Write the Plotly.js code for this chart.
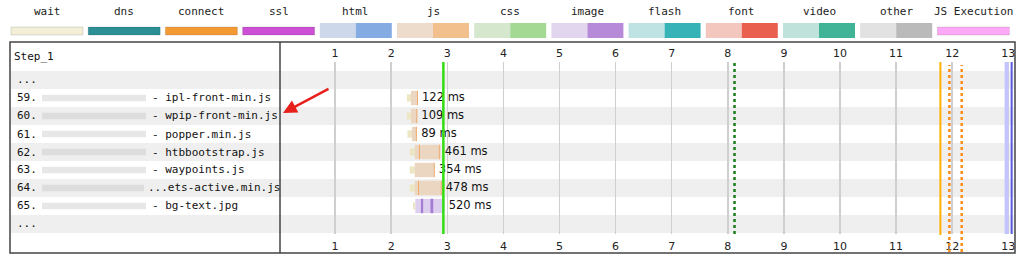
<!DOCTYPE html>
<html><head><meta charset="utf-8">
<script src="https://cdn.plot.ly/plotly-3.0.1.min.js"></script>
<style>html,body{margin:0;padding:0;background:#fff;} #chart{width:1024px;height:265px;}</style>
</head><body><div id="chart"></div>
<script>
// ---------- data ----------
const legendNames = ['wait','dns','connect','ssl','html','js','css','image','flash','font','video','other','JS Execution'];
const legendLight = ['#f2efd6','#2b8f95','#f49a35','#cc4fd4','#cdd8ea','#eddccb','#d5e8cd','#e2d6ef','#bfe2e3','#f3c6be','#bfe3da','#e2e2e2','#fda9f7'];
const legendDark  = [null,null,null,null,'#85abe3','#f2c08c','#a3d993','#b68ad9','#36b3b6','#e9604f','#41b497','#bababa',null];

const stepName = 'Step_1';
const rowLabels  = ['...','59.','60.','61.','62.','63.','64.','65.','...'];
const fileLabels = ['','- ipl-front-min.js','- wpip-front-min.js','- popper.min.js','- htbbootstrap.js','- waypoints.js','...ets-active.min.js','- bg-text.jpg',''];
const blurredRows = [1,2,3,4,5,6,7];

const requestRows  = [1,2,3,4,5,6,7];
const requestTypes = ['js','js','js','js','js','js','image'];
const waitStart    = [2.28,2.28,2.29,2.33,2.33,2.33,2.39];
const requestStart = [2.353,2.353,2.37,2.42,2.42,2.42,2.43];
const durationMs   = [122,109,89,461,354,478,520];

const chunkRows  = [1,2,3,4,4,5,6,6,7,7];
const chunkTypes = ['js','js','js','js','js','js','js','js','image','image'];
const chunkStart = [2.46,2.45,2.44,2.495,2.85,2.76,2.48,2.885,2.53,2.70];
const chunkMs    = [15,15,15,15,15,15,15,15,40,50];

const tickSeconds = [1,2,3,4,5,6,7,8,9,10,11,12,13];

const eventNames = ['startRender','lcp','domInteractive','domContentStart','domContentEnd','onLoad','docComplete'];
const eventTimes = [2.93,8.12,11.79,11.95,12.17,12.97,13.06];

const shadedRows = [0,2,4,6,8];

// ---------- styles ----------
const typeLight = {js:'#ebd6c2', image:'#ddd0ef'};
const typeDark  = {js:'#efa35e', image:'#a57dd2'};
const waitColor = '#ece6c3';
const eventStyle = [
  {color:'#33dd11', width:2.5, dash:'solid', top:62, bottom:234},
  {color:'#1b7d1b', width:2.5, dash:'dot',   top:62, bottom:234},
  {color:'#ffb000', width:2,   dash:'solid', top:62, bottom:235},
  {color:'#ff8c1a', width:2.5, dash:'dot',   top:65, bottom:252},
  {color:'#ff8c1a', width:2.5, dash:'dot',   top:65, bottom:252},
  {color:'#c4c4ff', width:4,   dash:'solid', top:62, bottom:234},
  {color:'#5a5ae0', width:2,   dash:'solid', top:62, bottom:234}
];

const W = 1024, H = 265;
const px = v => v / W;
const py = v => 1 - v / H;
const mono = 'DejaVu Sans Mono, monospace';
const sans = 'DejaVu Sans, Verdana, sans-serif';

// ---------- traces ----------
const traces = [];
traces.push({
  type:'bar', orientation:'h', y:requestRows,
  base:waitStart, x:waitStart.map((w,i)=>requestStart[i]-w),
  width:0.4, marker:{color:waitColor, line:{width:0}}, hoverinfo:'skip', showlegend:false
});
traces.push({
  type:'bar', orientation:'h', y:requestRows,
  base:requestStart, x:durationMs.map(d=>d/1000),
  width:0.8, marker:{color:requestTypes.map(t=>typeLight[t]), line:{width:0}}, hoverinfo:'skip', showlegend:false
});
traces.push({
  type:'bar', orientation:'h', y:chunkRows,
  base:chunkStart, x:chunkMs.map(d=>d/1000),
  width:0.8, marker:{color:chunkTypes.map(t=>typeDark[t]), line:{width:0}}, hoverinfo:'skip', showlegend:false
});
traces.push({
  type:'scatter', mode:'text', y:requestRows,
  x:durationMs.map((d,i)=>requestStart[i]+d/1000+0.075),
  text:durationMs.map(d=>d+' ms'), textposition:'middle right',
  textfont:{family:sans, size:11.5, color:'#111'}, cliponaxis:false, hoverinfo:'skip', showlegend:false
});
// helper traces so the label axes are drawn
traces.push({type:'scatter', mode:'markers', x:[1], y:[-5], xaxis:'x2', yaxis:'y', marker:{opacity:0}, hoverinfo:'skip', showlegend:false});
traces.push({type:'scatter', mode:'markers', x:[1], y:[-5], xaxis:'x3', yaxis:'y', marker:{opacity:0}, hoverinfo:'skip', showlegend:false});

// ---------- shapes ----------
const shapes = [];
shadedRows.forEach(r => shapes.push({
  type:'rect', xref:'paper', yref:'y', x0:px(11), x1:px(1014), y0:r-0.5, y1:r+0.5,
  fillcolor:'#efefef', line:{width:0}, layer:'below'
}));
blurredRows.forEach(r => shapes.push({
  type:'rect', xref:'paper', yref:'y', x0:px(42), x1:px(r===6?144:146), y0:r-0.18, y1:r+0.18,
  fillcolor:'rgba(195,195,195,0.4)', line:{width:0}, layer:'above'
}));
eventTimes.forEach((t,i) => shapes.push({
  type:'line', xref:'x', yref:'paper', x0:t, x1:t, y0:py(eventStyle[i].bottom), y1:py(eventStyle[i].top),
  line:{color:eventStyle[i].color, width:eventStyle[i].width, dash:eventStyle[i].dash}, layer:'above'
}));
// frame
shapes.push({type:'rect', xref:'paper', yref:'paper', x0:px(10), x1:px(1015), y0:py(253), y1:py(42),
  line:{color:'#444', width:1.5}, fillcolor:'rgba(0,0,0,0)', layer:'above'});
shapes.push({type:'line', xref:'paper', yref:'paper', x0:px(280), x1:px(280), y0:py(253), y1:py(42),
  line:{color:'#444', width:1.5}, layer:'above'});
// legend swatches
const pitch = 77.2, swW = 72;
legendNames.forEach((n,i) => {
  const x0 = 11 + i*pitch;
  if (legendDark[i]) {
    shapes.push({type:'rect', xref:'paper', yref:'paper', x0:px(x0), x1:px(x0+swW/2), y0:py(38), y1:py(23),
      fillcolor:legendLight[i], line:{width:0}});
    shapes.push({type:'rect', xref:'paper', yref:'paper', x0:px(x0+swW/2), x1:px(x0+swW), y0:py(38), y1:py(23),
      fillcolor:legendDark[i], line:{width:0}});
  } else {
    shapes.push({type:'rect', xref:'paper', yref:'paper', x0:px(x0), x1:px(x0+swW), y0:py(35), y1:py(27),
      fillcolor:legendLight[i], line:{width:0.8, color:'rgba(0,0,0,0.15)'}});
  }
});

// ---------- annotations ----------
const annotations = [];
legendNames.forEach((n,i) => annotations.push({
  xref:'paper', yref:'paper', x:px(11 + i*pitch + swW/2), y:py(12), text:n, showarrow:false,
  xanchor:'center', yanchor:'middle', font:{family:mono, size:11, color:'#222'}
}));
annotations.push({xref:'paper', yref:'paper', x:px(12), y:py(57), text:stepName, showarrow:false,
  xanchor:'left', yanchor:'middle', font:{family:mono, size:11, color:'#111'}});
rowLabels.forEach((t,i) => annotations.push({
  xref:'paper', yref:'y', x:px(15), y:i, text:t, showarrow:false, xanchor:'left', yanchor:'middle',
  font:{family:mono, size:11, color:'#111'}
}));
fileLabels.forEach((t,i) => { if (t) annotations.push({
  xref:'paper', yref:'y', x:px(t.startsWith('...')?146:150), y:i, text:t, showarrow:false, xanchor:'left', yanchor:'middle',
  font:{family:mono, size:11, color:'#111'}
}); });
annotations.push({xref:'paper', yref:'paper', x:px(283), y:py(113), ax:47, ay:-25, text:'', showarrow:true,
  arrowhead:2, arrowsize:1.1, arrowwidth:2.5, arrowcolor:'#e8201c', standoff:0});

const xr = [0, 13.12];
const xdom = [px(279), px(1015)];
const layout = {
  width:W, height:H, margin:{l:0,r:0,t:0,b:0}, paper_bgcolor:'#fff', plot_bgcolor:'rgba(0,0,0,0)',
  barmode:'overlay', showlegend:false,
  xaxis:{domain:xdom, range:xr, tickvals:tickSeconds, showticklabels:false, showgrid:true, gridcolor:'#cfcfcf', gridwidth:1.5,
         zeroline:false, showline:false, ticks:'', fixedrange:true, anchor:'y'},
  xaxis2:{overlaying:'x', range:xr, side:'top', anchor:'free', position:py(59), tickvals:tickSeconds,
          ticktext:tickSeconds.map(String), showgrid:false, zeroline:false, showline:false, ticks:'',
          tickfont:{family:sans, size:11, color:'#222'}},
  xaxis3:{overlaying:'x', range:xr, side:'bottom', anchor:'free', position:py(238), tickvals:tickSeconds,
          ticktext:tickSeconds.map(String), showgrid:false, zeroline:false, showline:false, ticks:'',
          tickfont:{family:sans, size:11, color:'#222'}},
  yaxis:{domain:[py(234), py(62)], range:[8.556, -1], visible:false, fixedrange:true},
  shapes, annotations
};
Plotly.newPlot('chart', traces, layout, {staticPlot:true, displayModeBar:false});
</script>
</body></html>
